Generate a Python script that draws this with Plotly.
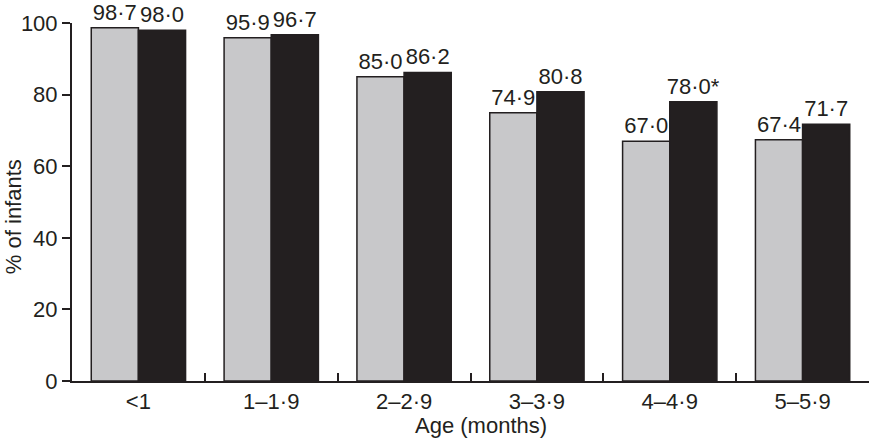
import plotly.graph_objects as go

categories = ["<1", "1–1·9", "2–2·9", "3–3·9", "4–4·9", "5–5·9"]
series_a = [98.7, 95.9, 85.0, 74.9, 67.0, 67.4]
series_b = [98.0, 96.7, 86.2, 80.8, 78.0, 71.7]
marks_b = ["", "", "", "", "*", ""]
y_ticks = [0, 20, 40, 60, 80, 100]

def fmt(v, m=""):
    return f"{v:.1f}".replace(".", "·") + m

ink = "#231f20"
font = dict(family="Liberation Sans, Arial, sans-serif", size=22, color=ink)
label_font = dict(family="Liberation Sans, Arial, sans-serif", size=22, color=ink)

fig = go.Figure()
fig.add_trace(go.Bar(
    x=categories, y=series_a, text=[fmt(v) for v in series_a],
    textposition="outside", cliponaxis=False, constraintext="none",
    marker=dict(color="#c8c8ca", line=dict(color=ink, width=1.5)),
    textfont=label_font, name="A",
))
fig.add_trace(go.Bar(
    x=categories, y=series_b, text=[fmt(v, m) for v, m in zip(series_b, marks_b)],
    textposition="outside", cliponaxis=False, constraintext="none",
    marker=dict(color=ink, line=dict(color=ink, width=1.5)),
    textfont=label_font, name="B",
))

fig.update_layout(
    width=870, height=442,
    margin=dict(l=72, r=1, t=23, b=61),
    paper_bgcolor="white", plot_bgcolor="white",
    barmode="group", bargap=0.29, bargroupgap=0,
    showlegend=False,
    font=font,
)
fig.update_xaxes(
    type="category", range=[-0.5, 5.5],
    showline=True, linecolor=ink, linewidth=2,
    ticks="inside", tickson="boundaries", ticklen=8, tickwidth=2, tickcolor=ink,
    showgrid=False, tickfont=font, zeroline=False,
)
fig.update_yaxes(
    range=[0, 100], tickvals=y_ticks,
    showline=True, linecolor=ink, linewidth=2,
    ticks="outside", ticklen=8, tickwidth=2, tickcolor=ink,
    showgrid=False, zeroline=False, tickfont=font,
)
fig.add_annotation(text="Age (months)", xref="paper", yref="paper",
                   x=0.513, y=-0.125, xanchor="center", yanchor="middle",
                   showarrow=False, font=font)
fig.add_annotation(text="% of infants", xref="paper", yref="paper",
                   x=-0.073, y=0.46, xanchor="center", yanchor="middle",
                   textangle=-90, showarrow=False, font=font)

fig.write_html("out.html", config={"displayModeBar": False},
               post_script="document.body.style.margin='0';document.body.style.padding='0';")
